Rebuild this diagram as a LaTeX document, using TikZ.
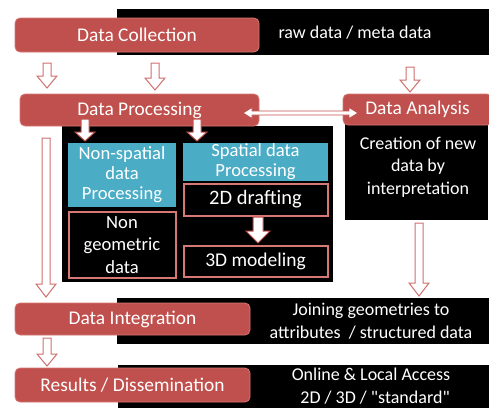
\documentclass[tikz,border=0pt]{standalone}
\usepackage{fontspec}
\setmainfont{Carlito}
\font\plainqf="Carlito" at 18pt
\usetikzlibrary{calc}
\definecolor{boxred}{RGB}{192,80,77}
\definecolor{boxedge}{RGB}{214,120,116}
\definecolor{arrred}{RGB}{206,112,110}
\definecolor{aqua}{RGB}{75,172,198}
\newcommand\blkdown[6]{%
  \draw[#1] let \p1=(#2), \p2=(#3) in
    (\x1-#4pt,\y1) -- (\x1+#4pt,\y1) -- (\x1+#4pt,\y2+#6pt) -- (\x1+#5pt,\y2+#6pt)
    -- (\x1,\y2) -- (\x1-#5pt,\y2+#6pt) -- (\x1-#4pt,\y2+#6pt) -- cycle;}
\newcommand\sq{{\plainqf"}}
\tikzset{
  txt/.style={font=\fontsize{18}{22.5}\selectfont, align=center, inner sep=0pt},
  redbox/.style={txt, rectangle, rounded corners=5pt, fill=boxred, draw=boxedge, line width=0.8pt, text=white, font=\fontsize{19.4}{22}\selectfont},
  band/.style={rectangle, fill=black, inner sep=0pt},
  aquabox/.style={txt, rectangle, fill=aqua, text=white, font=\fontsize{18.6}{20}\selectfont},
  inbox/.style={txt, rectangle, fill=black, draw=boxedge, line width=2pt, text=white, font=\fontsize{18.6}{22.5}\selectfont},
  hollow/.style={draw=arrred, fill=white, line width=1pt, line join=miter},
  whitearr/.style={draw=boxred, fill=white, line width=1pt, line join=miter},
}
\begin{document}
\begin{tikzpicture}[x=1pt,y=-1pt]
\useasboundingbox (0,0) rectangle (489,408);
% black bands
\node[band, minimum width=372pt, minimum height=46pt] (band1) at (303,32) {};
\node[band, minimum width=372pt, minimum height=46pt] (band2) at (303,321) {};
\node[band, minimum width=371pt, minimum height=43pt] (band3) at (303.5,386.5) {};
\node[band, minimum width=271pt, minimum height=156pt] (dpbox) at (197.5,204) {};
\node[band, minimum width=143pt, minimum height=96pt] (dabox) at (416.5,172) {};
% red boxes
\node[redbox, minimum width=244pt, minimum height=34pt] (dc) at (137,35) {Data Collection};
\node[redbox, minimum width=239pt, minimum height=32pt] (dp) at (139.5,110) {Data Processing};
\node[redbox, minimum width=149pt, minimum height=31pt] (da) at (417.5,109.5) {Data Analysis};
\node[redbox, minimum width=235pt, minimum height=32pt] (di) at (132.5,319) {Data Integration};
\node[redbox, minimum width=235pt, minimum height=34pt] (res) at (132.5,385) {Results / Dissemination};
% band texts
\node[txt, text=white] (rawtxt) at (355,33) {raw data / meta data};
\node[txt, text=white] (datxt) at (418,167) {Creation of new\\data by\\interpretation};
\node[txt, text=white] (intxt) at (371,321) {Joining geometries to\\attributes \ / structured data};
\node[txt, text=white] (restxt) at (371,386) {Online \& Local Access\\\ \ 2D / 3D / \sq standard\sq};
% inner boxes
\node[aquabox, minimum width=108pt, minimum height=64pt] (nsp) at (122,175) {Non-spatial\\data\\Processing};
\node[aquabox, minimum width=145pt, minimum height=38pt] (sp) at (255.5,162) {Spatial data\\Processing};
\node[inbox, minimum width=144pt, minimum height=32pt, font=\fontsize{20.5}{22}\selectfont] (d2) at (255.5,199.5) {2D drafting};
\node[inbox, minimum width=107pt, minimum height=66pt] (ngeo) at (122,245) {Non\\geometric\\data};
\node[inbox, minimum width=144pt, minimum height=31pt, font=\fontsize{19.5}{22}\selectfont] (d3) at (255.5,261) {3D modeling};
% arrow end coordinates
\coordinate (a1s) at (47,63);   \coordinate (a1e) at (47,88);
\coordinate (a2s) at (155,63);  \coordinate (a2e) at (155,90);
\coordinate (a3s) at (410,67);  \coordinate (a3e) at (410,92);
\coordinate (a4s) at (46,138);  \coordinate (a4e) at (46,297);
\coordinate (a5s) at (419,223); \coordinate (a5e) at (419,296);
\coordinate (a6s) at (47,338);  \coordinate (a6e) at (47,366);
\coordinate (a7s) at (85,119);  \coordinate (a7e) at (85,141);
\coordinate (a8s) at (197,119); \coordinate (a8e) at (197,141);
\coordinate (a9s) at (258,217); \coordinate (a9e) at (258,243);
\coordinate (dl) at (243,113);  \coordinate (dr) at (358,113);
% hollow arrows
\blkdown{hollow}{a1s}{a1e}{4}{10}{12}
\blkdown{hollow}{a2s}{a2e}{4}{10}{12}
\blkdown{hollow}{a3s}{a3e}{4}{10}{12}
\blkdown{hollow}{a4s}{a4e}{4}{10}{13}
\blkdown{hollow}{a5s}{a5e}{4}{10}{13}
\blkdown{hollow}{a6s}{a6e}{4}{10}{12}
% white arrows
\blkdown{whitearr}{a7s}{a7e}{4}{10}{9}
\blkdown{whitearr}{a8s}{a8e}{4}{10}{9}
\blkdown{whitearr}{a9s}{a9e}{5}{12}{12}
% double arrow
\draw[whitearr, line width=0.8pt] let \p1=(dl), \p2=(dr) in
  (\x1,\y1) -- (\x1+9pt,\y1+5.5pt) -- (\x1+9pt,\y1+2pt) -- (\x2-9pt,\y1+2pt)
  -- (\x2-9pt,\y1+5.5pt) -- (\x2,\y1) -- (\x2-9pt,\y1-5.5pt) -- (\x2-9pt,\y1-2pt)
  -- (\x1+9pt,\y1-2pt) -- (\x1+9pt,\y1-5.5pt) -- cycle;
\end{tikzpicture}
\end{document}
